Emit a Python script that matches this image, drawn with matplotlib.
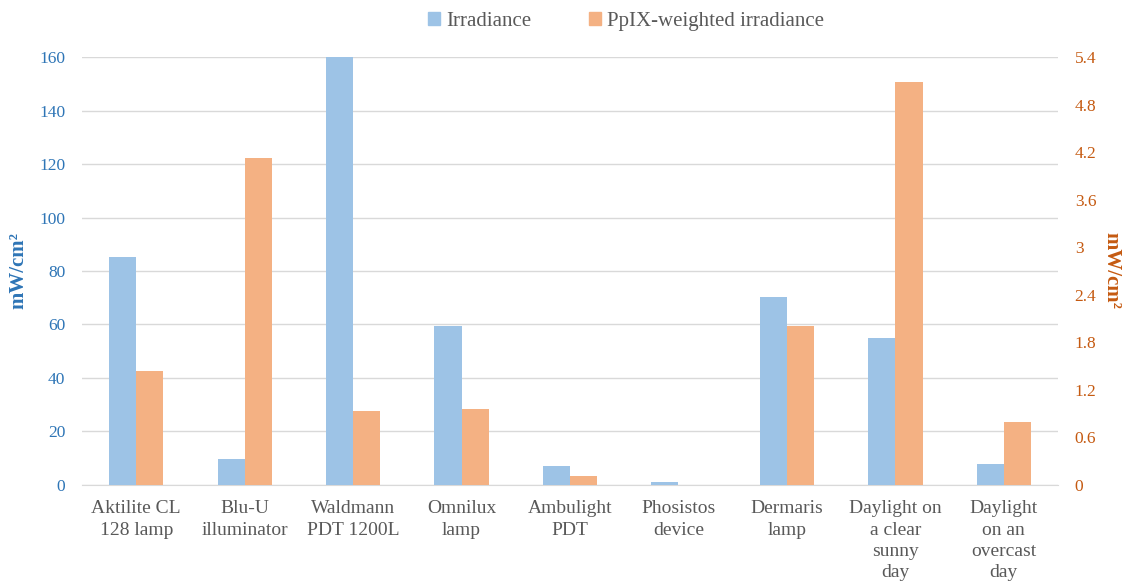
import numpy as np
import matplotlib.pyplot as plt
from matplotlib.patches import Patch

plt.rcParams['font.family'] = ['Liberation Serif', 'DejaVu Serif']

categories = ['Aktilite CL\n128 lamp', 'Blu-U\nilluminator', 'Waldmann\nPDT 1200L',
              'Omnilux\nlamp', 'Ambulight\nPDT', 'Phosistos\ndevice', 'Dermaris\nlamp',
              'Daylight on\na clear\nsunny\nday', 'Daylight\non an\novercast\nday']
irradiance = [85.2, 9.7, 160, 59.4, 7.1, 1.1, 70.2, 55, 7.9]
ppix_weighted = [1.44, 4.13, 0.93, 0.96, 0.11, 0.0, 2.01, 5.08, 0.79]

blue = '#9DC3E6'
orange = '#F4B183'
blue_txt = '#2E75B6'
orange_txt = '#C55A11'
grey_txt = '#595959'
grid_c = '#D9D9D9'

fig = plt.figure(figsize=(11.28, 5.86), dpi=100)
ax = fig.add_axes([0.0727, 0.1724, 0.8653, 0.7303])
ax2 = ax.twinx()

x = np.arange(len(categories))
w = 0.25
ax.bar(x - w / 2, irradiance, w, color=blue, zorder=3)
ax2.bar(x + w / 2, ppix_weighted, w, color=orange, zorder=3)

ax.set_xlim(-0.5, len(categories) - 0.5)
ax.set_ylim(0, 160)
ax2.set_ylim(0, 5.4)
ax.set_yticks(np.arange(0, 161, 20))
ax2.set_yticks(np.arange(0, 5.41, 0.6))
ax2.set_yticklabels(['0', '0.6', '1.2', '1.8', '2.4', '3', '3.6', '4.2', '4.8', '5.4'])

ax.grid(axis='y', color=grid_c, linewidth=1, zorder=0)
ax.set_axisbelow(True)
for a in (ax, ax2):
    for s in a.spines.values():
        s.set_visible(False)
    a.tick_params(length=0)
ax.spines['bottom'].set_visible(True)
ax.spines['bottom'].set_color(grid_c)

ax.set_xticks(x)
ax.set_xticklabels(categories, fontsize=14, color=grey_txt, linespacing=1.33)
ax.tick_params(axis='x', pad=11)
ax.tick_params(axis='y', labelsize=12.5, labelcolor=blue_txt, pad=12)
ax2.tick_params(axis='y', labelsize=12.5, labelcolor=orange_txt, pad=12)

ax.set_ylabel('mW/cm²', fontsize=15, fontweight='bold', color=blue_txt, labelpad=8)
ax2.set_ylabel('mW/cm²', fontsize=15, fontweight='bold', color=orange_txt,
               rotation=-90, labelpad=18)

handles = [Patch(color=blue, label='Irradiance'),
           Patch(color=orange, label='PpIX-weighted irradiance')]
fig.legend(handles=handles, loc='upper center', bbox_to_anchor=(0.555, 1.012), ncol=2,
           frameon=False, fontsize=15, labelcolor=grey_txt, handlelength=0.55,
           handleheight=0.55, handletextpad=0.3, columnspacing=2.8)

fig.savefig('out.png', dpi=100)
